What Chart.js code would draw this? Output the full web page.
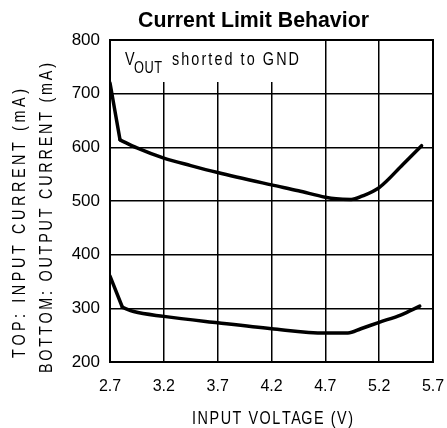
<!DOCTYPE html>
<html><head><meta charset="utf-8">
<script src="https://cdn.jsdelivr.net/npm/chart.js@4/dist/chart.umd.min.js"></script>
<style>html,body{margin:0;padding:0;background:#fff}#wrap{width:447px;height:428px}</style>
</head><body><div id="wrap"><canvas id="c" width="447" height="428"></canvas></div>
<script>
const inputVoltage = [2.7, 2.793, 2.95, 3.2, 3.45, 3.7, 4.2, 4.45, 4.7, 4.8, 4.94, 5.04, 5.2, 5.42, 5.594];
const inputCurrent = [720, 614, 599, 580, 566, 553, 530, 519, 507, 504, 503, 509, 525, 568, 603];
const outputVoltage = [2.7, 2.815, 2.92, 3.2, 3.7, 4.2, 4.7, 4.91, 5.03, 5.2, 5.405, 5.577];
const outputCurrent = [360, 302, 294, 285, 273, 262, 254, 254, 262, 274, 288, 304];
const xTicks = [2.7, 3.2, 3.7, 4.2, 4.7, 5.2, 5.7];
const yTicks = [200, 300, 400, 500, 600, 700, 800];
const titleText = 'Current Limit Behavior';
const xTitle = 'INPUT VOLTAGE (V)';
const yTitle1 = 'TOP: INPUT CURRENT (mA)';
const yTitle2 = 'BOTTOM: OUTPUT CURRENT (mA)';
const noteMain = 'V';
const noteSub = 'OUT';
const noteRest = 'shorted to GND';

const SANS = '"Liberation Sans", Arial, sans-serif';
const SX = 0.8; // horizontal compression mimicking the narrow plotter lettering

const toPts = (xs, ys) => xs.map((x, i) => ({x, y: ys[i]}));

// draw narrow text spread to a given width, starting at x (left), char by char
function spreadText(ctx, text, x, y, width) {
  const w0 = ctx.measureText(text).width * SX;
  const ls = text.length > 1 ? (width - w0) / (text.length - 1) : 0;
  ctx.textAlign = 'left';
  for (let i = 0; i < text.length; i++) {
    const px = x + ctx.measureText(text.slice(0, i)).width * SX + i * ls;
    ctx.save();
    ctx.translate(px, y);
    ctx.scale(SX, 1);
    ctx.fillText(text[i], 0, 0);
    ctx.restore();
  }
}

const deco = {
  id: 'deco',
  beforeDatasetsDraw(chart) {
    const {ctx, chartArea: a} = chart;
    ctx.save();
    ctx.fillStyle = '#fff';
    ctx.fillRect(a.left + 1, a.top + 1, 196, 41);
    ctx.fillStyle = '#000';
    ctx.textBaseline = 'alphabetic';
    ctx.font = '18px ' + SANS;
    spreadText(ctx, noteMain, 125, 65, 10);
    ctx.font = '16px ' + SANS;
    spreadText(ctx, noteSub, 134, 73, 28);
    ctx.font = '18px ' + SANS;
    spreadText(ctx, noteRest, 172, 65, 127);
    ctx.restore();
  },
  afterDraw(chart) {
    const {ctx, chartArea: a} = chart;
    ctx.save();
    ctx.strokeStyle = '#000';
    ctx.lineWidth = 2;
    ctx.strokeRect(a.left, a.top, a.right - a.left, a.bottom - a.top);
    ctx.fillStyle = '#000';
    ctx.textBaseline = 'alphabetic';
    ctx.font = 'bold 20px ' + SANS;
    const tw = ctx.measureText(titleText).width;
    const ts = 20 * 231 / tw;
    ctx.font = 'bold ' + ts.toFixed(2) + 'px ' + SANS;
    ctx.textAlign = 'center';
    ctx.fillText(titleText, 253.5, 27);
    ctx.font = '18px ' + SANS;
    spreadText(ctx, xTitle, 192, 424, 161);
    ctx.save();
    ctx.translate(25, 223.5);
    ctx.rotate(-Math.PI / 2);
    spreadText(ctx, yTitle1, -134.5, 0, 269);
    ctx.restore();
    ctx.save();
    ctx.translate(52, 218);
    ctx.rotate(-Math.PI / 2);
    spreadText(ctx, yTitle2, -155, 0, 310);
    ctx.restore();
    ctx.restore();
  }
};

const lineStyle = {showLine: true, borderColor: '#000', borderWidth: 3.5, pointRadius: 0, fill: false, borderCapStyle: 'round', borderJoinStyle: 'round'};

new Chart(document.getElementById('c'), {
  type: 'scatter',
  data: {
    datasets: [
      // steep start-up segment (straight) then the smooth remainder of each curve
      {...lineStyle, data: toPts(inputVoltage.slice(0, 2), inputCurrent.slice(0, 2)), tension: 0},
      {...lineStyle, data: toPts(inputVoltage.slice(1), inputCurrent.slice(1)), cubicInterpolationMode: 'monotone'},
      {...lineStyle, data: toPts(outputVoltage.slice(0, 2), outputCurrent.slice(0, 2)), tension: 0},
      {...lineStyle, data: toPts(outputVoltage.slice(1), outputCurrent.slice(1)), cubicInterpolationMode: 'monotone'}
    ]
  },
  options: {
    responsive: false,
    animation: false,
    events: [],
    layout: {padding: {top: 40, right: 14, left: 0, bottom: 0}},
    plugins: {legend: {display: false}, tooltip: {enabled: false}, title: {display: false}},
    scales: {
      x: {
        type: 'linear', min: 2.7, max: 5.7,
        afterBuildTicks(s) { s.ticks = xTicks.map(v => ({value: v})); },
        afterFit(s) { s.height = 66; s.paddingLeft = 0; s.paddingRight = 0; },
        grid: {color: '#000', lineWidth: 1.5, drawTicks: false},
        border: {display: false},
        ticks: {color: '#000', padding: 15, maxRotation: 0, autoSkip: false, font: {family: SANS, size: 16}, callback: v => v.toFixed(1)}
      },
      y: {
        type: 'linear', min: 200, max: 800,
        afterBuildTicks(s) { s.ticks = yTicks.map(v => ({value: v})); },
        afterFit(s) { s.width = 110; s.paddingTop = 0; s.paddingBottom = 0; },
        grid: {color: '#000', lineWidth: 1.5, drawTicks: false},
        border: {display: false},
        ticks: {color: '#000', padding: 10, autoSkip: false, font: {family: SANS, size: 17}}
      }
    }
  },
  plugins: [deco]
});
</script></body></html>
